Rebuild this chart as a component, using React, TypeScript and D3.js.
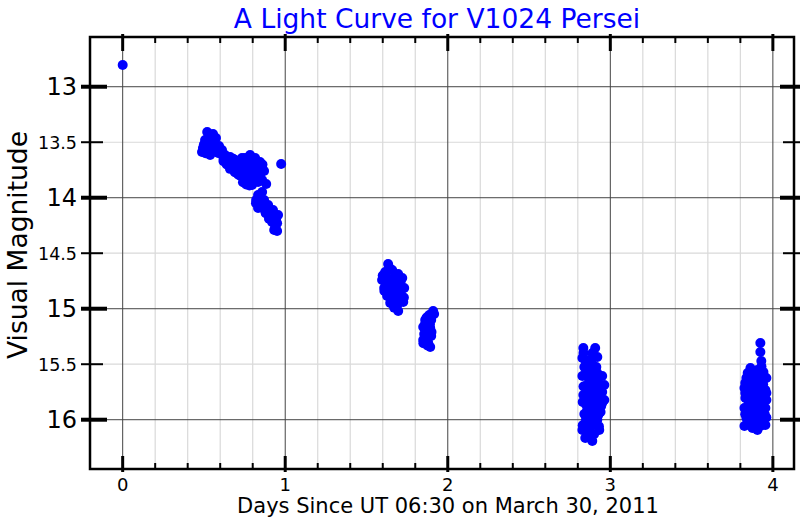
import React from "react";
import * as d3 from "d3";

const singleDays = [0.0, 0.975];
const singleMags = [12.805, 13.696];

const cluster1Days = [0.520, 0.556, 0.574, 0.507, 0.538, 0.494, 0.525, 0.562, 0.593, 0.488, 0.538, 0.587, 0.611, 0.630, 0.661, 0.648, 0.691, 0.710, 0.734, 0.753, 0.772, 0.722, 0.796, 0.815, 0.833, 0.784, 0.815, 0.845, 0.858, 0.753, 0.784, 0.815, 0.845, 0.833, 0.796, 0.858, 0.759, 0.858, 0.883, 0.833, 0.858, 0.821, 0.845, 0.870, 0.833, 0.895, 0.858, 0.895, 0.925, 0.907, 0.919, 0.944, 0.956, 0.938, 0.932, 0.950,
  0.600, 0.620, 0.640, 0.670, 0.680, 0.700, 0.720, 0.740, 0.760, 0.780, 0.800, 0.820, 0.840, 0.800, 0.770, 0.500, 0.530, 0.550, 0.570, 0.510, 0.550, 0.580, 0.860, 0.870, 0.820, 0.790, 0.720, 0.740, 0.760, 0.780, 0.700, 0.680,
  0.840, 0.870, 0.890, 0.910, 0.930, 0.950, 0.940, 0.820, 0.880, 0.900,
  0.660, 0.690, 0.640, 0.710, 0.620];
const cluster1Mags = [13.408, 13.426, 13.462, 13.480, 13.498, 13.552, 13.570, 13.552, 13.534, 13.588, 13.615, 13.597, 13.570, 13.615, 13.633, 13.678, 13.660, 13.705, 13.642, 13.687, 13.732, 13.750, 13.660, 13.705, 13.750, 13.777, 13.823, 13.795, 13.732, 13.642, 13.615, 13.642, 13.678, 13.859, 13.886, 13.841, 13.823, 13.750, 13.877, 13.976, 13.949, 14.021, 14.066, 14.021, 14.093, 14.066, 14.093, 14.129, 14.111, 14.183, 14.219, 14.201, 14.156, 14.246, 14.291, 14.300,
  13.600, 13.640, 13.660, 13.680, 13.650, 13.690, 13.710, 13.730, 13.760, 13.740, 13.800, 13.780, 13.820, 13.850, 13.800, 13.520, 13.450, 13.500, 13.520, 13.600, 13.580, 13.580, 13.700, 13.760, 13.690, 13.700, 13.800, 13.860, 13.880, 13.890, 13.760, 13.720,
  14.000, 14.050, 14.100, 14.150, 14.200, 14.230, 14.270, 14.050, 14.140, 14.190,
  13.740, 13.770, 13.700, 13.790, 13.670];

const cluster2Days = [1.633, 1.615, 1.658, 1.695, 1.596, 1.633, 1.676, 1.720, 1.609, 1.652, 1.695, 1.732, 1.627, 1.670, 1.713, 1.646, 1.689, 1.695, 1.726, 1.621, 1.676,
  1.640, 1.600, 1.680, 1.710, 1.620, 1.660, 1.700, 1.640, 1.680, 1.710, 1.660, 1.700, 1.670, 1.730, 1.610,
  1.910, 1.886, 1.861, 1.898, 1.849, 1.892, 1.855, 1.898, 1.849, 1.880, 1.892, 1.916, 1.874,
  1.870, 1.900, 1.860, 1.890, 1.870, 1.880, 1.860, 1.900, 1.875, 1.850];
const cluster2Mags = [14.597, 14.669, 14.651, 14.687, 14.741, 14.741, 14.759, 14.723, 14.813, 14.831, 14.831, 14.813, 14.885, 14.903, 14.885, 14.949, 14.967, 15.021, 14.940, 14.705, 14.705,
  14.630, 14.700, 14.700, 14.760, 14.780, 14.790, 14.790, 14.860, 14.860, 14.850, 14.930, 14.930, 14.990, 14.900, 14.840,
  15.021, 15.057, 15.102, 15.102, 15.165, 15.174, 15.228, 15.246, 15.282, 15.309, 15.345, 15.048, 15.129,
  15.080, 15.070, 15.140, 15.140, 15.200, 15.260, 15.250, 15.210, 15.330, 15.310];

const cluster3Days = [2.834, 2.907, 2.920, 2.828, 2.840, 2.877, 2.914, 2.828, 2.865, 2.907, 2.950, 2.846, 2.889, 2.938, 2.963, 2.834, 2.877, 2.926, 2.963, 2.852, 2.901, 2.944, 2.840, 2.883, 2.926, 2.858, 2.907, 2.828, 2.877, 2.932, 2.846, 2.889, 2.865, 2.901, 2.871, 2.858,
  2.890, 2.890, 2.850, 2.880, 2.850, 2.920, 2.870, 2.920, 2.860, 2.950, 2.910, 2.880, 2.830, 2.950, 2.900, 2.870, 2.940, 2.850, 2.920, 2.880, 2.830, 2.930, 2.860, 2.900, 2.835, 2.835];
const cluster3Mags = [15.354, 15.354, 15.435, 15.444, 15.525, 15.534, 15.525, 15.606, 15.624, 15.624, 15.606, 15.697, 15.715, 15.715, 15.688, 15.778, 15.805, 15.787, 15.823, 15.868, 15.886, 15.877, 15.949, 15.967, 15.958, 16.039, 16.039, 16.093, 16.111, 16.093, 16.165, 16.192, 16.003, 15.751, 15.462, 15.913,
  15.400, 15.500, 15.480, 15.580, 15.580, 15.580, 15.670, 15.660, 15.750, 15.750, 15.840, 15.850, 15.840, 15.850, 15.930, 15.960, 15.930, 16.000, 16.000, 16.060, 16.050, 16.060, 16.130, 16.130, 15.400, 15.700];

const cluster4Days = [3.923, 3.923, 3.929, 3.862, 3.905, 3.942, 3.837, 3.880, 3.923, 3.960, 3.825, 3.868, 3.911, 3.954, 3.831, 3.874, 3.923, 3.960, 3.825, 3.868, 3.911, 3.954, 3.837, 3.880, 3.936, 3.825, 3.874, 3.923, 3.954, 3.905,
  3.845, 3.890, 3.930, 3.860, 3.900, 3.940, 3.850, 3.890, 3.940, 3.850, 3.890, 3.930, 3.860, 3.900, 3.950, 3.850, 3.900, 3.940, 3.830, 3.830, 3.830, 3.960, 3.960, 3.930, 3.880, 3.910];
const cluster4Mags = [15.309, 15.390, 15.471, 15.534, 15.552, 15.570, 15.624, 15.642, 15.642, 15.624, 15.715, 15.733, 15.715, 15.733, 15.805, 15.823, 15.805, 15.823, 15.895, 15.913, 15.913, 15.895, 15.985, 16.003, 15.985, 16.057, 16.075, 16.057, 16.048, 16.093,
  15.580, 15.590, 15.590, 15.680, 15.680, 15.680, 15.770, 15.770, 15.770, 15.860, 15.860, 15.860, 15.950, 15.950, 15.950, 16.020, 16.030, 16.020, 15.950, 15.760, 15.670, 15.760, 15.980, 15.520, 15.560, 15.580];

const xMajorTicks = [0, 1, 2, 3, 4];
const xMinorTicks = [0.2, 0.4, 0.6, 0.8, 1.2, 1.4, 1.6, 1.8, 2.2, 2.4, 2.6, 2.8, 3.2, 3.4, 3.6, 3.8];
const yMajorTicks = [13, 14, 15, 16];
const yMinorTicks = [13.5, 14.5, 15.5];
const yMinorLabels = ["13.5", "14.5", "15.5"];

const title = "A Light Curve for V1024 Persei";
const xLabel = "Days Since UT 06:30 on March 30, 2011";
const yLabel = "Visual Magnitude";

const L = 90, R = 794, T = 37, B = 469;
const FONT = "DejaVu Sans";

export default function App() {
  const x = d3.scaleLinear().domain([-0.201, 4.13]).range([L, R]);
  const y = d3.scaleLinear().domain([12.552, 16.444]).range([T, B]);

  const pts: [number, number][] = [];
  const add = (ds: number[], ms: number[]) => ds.forEach((d, i) => pts.push([d, ms[i]]));
  add(singleDays, singleMags);
  add(cluster1Days, cluster1Mags);
  add(cluster2Days, cluster2Mags);
  add(cluster3Days, cluster3Mags);
  add(cluster4Days, cluster4Mags);

  return (
    <svg width={800} height={520} style={{ position: "absolute", left: 0, top: 0, background: "#fff" }} fontFamily={FONT}>
      <rect x={0} y={0} width={800} height={520} fill="#fff" />
      {xMinorTicks.map((t) => (
        <line key={"gx" + t} x1={x(t)} x2={x(t)} y1={T} y2={B} stroke="#d9d9d9" strokeWidth={1.2} />
      ))}
      {yMinorTicks.map((t) => (
        <line key={"gy" + t} x1={L} x2={R} y1={y(t)} y2={y(t)} stroke="#d9d9d9" strokeWidth={1.2} />
      ))}
      {xMajorTicks.map((t) => (
        <line key={"Gx" + t} x1={x(t)} x2={x(t)} y1={T} y2={B} stroke="#444" strokeWidth={1} />
      ))}
      {yMajorTicks.map((t) => (
        <line key={"Gy" + t} x1={L} x2={R} y1={y(t)} y2={y(t)} stroke="#444" strokeWidth={1} />
      ))}
      {pts.map((p, i) => (
        <circle key={"p" + i} cx={x(p[0])} cy={y(p[1])} r={5} fill="#0000ff" />
      ))}
      <rect x={L} y={T} width={R - L} height={B - T} fill="none" stroke="#000" strokeWidth={2.5} />
      {xMajorTicks.map((t) => (
        <g key={"tx" + t}>
          <line x1={x(t)} x2={x(t)} y1={B + 3} y2={B - 13} stroke="#000" strokeWidth={3} />
          <line x1={x(t)} x2={x(t)} y1={T - 3} y2={T + 14} stroke="#000" strokeWidth={3} />
          <text x={x(t)} y={491} textAnchor="middle" fontSize={18} fill="#000">{t}</text>
        </g>
      ))}
      {xMinorTicks.map((t) => (
        <g key={"mx" + t}>
          <line x1={x(t)} x2={x(t)} y1={B} y2={B - 6} stroke="#000" strokeWidth={2} />
          <line x1={x(t)} x2={x(t)} y1={T} y2={T + 6} stroke="#000" strokeWidth={2} />
        </g>
      ))}
      {yMajorTicks.map((t) => (
        <g key={"ty" + t}>
          <line x1={L - 9} x2={L + 17} y1={y(t)} y2={y(t)} stroke="#000" strokeWidth={4} />
          <line x1={R - 14} x2={R + 9} y1={y(t)} y2={y(t)} stroke="#000" strokeWidth={4} />
          <text x={77} y={y(t)} dy="0.36em" textAnchor="end" fontSize={24} fill="#000">{t}</text>
        </g>
      ))}
      {yMinorTicks.map((t, i) => (
        <g key={"my" + t}>
          <line x1={L - 9} x2={L + 13} y1={y(t)} y2={y(t)} stroke="#000" strokeWidth={2} />
          <line x1={R - 11} x2={R + 9} y1={y(t)} y2={y(t)} stroke="#000" strokeWidth={2} />
          <text x={77} y={y(t)} dy="0.36em" textAnchor="end" fontSize={17.5} fill="#000">{yMinorLabels[i]}</text>
        </g>
      ))}
      <text x={437} y={28} textAnchor="middle" fontSize={26.5} fill="#0000ff">{title}</text>
      <text x={448} y={513} textAnchor="middle" fontSize={21} fill="#000">{xLabel}</text>
      <text transform={`translate(27,245) rotate(-90)`} textAnchor="middle" fontSize={26.5} fill="#000">{yLabel}</text>
    </svg>
  );
}
